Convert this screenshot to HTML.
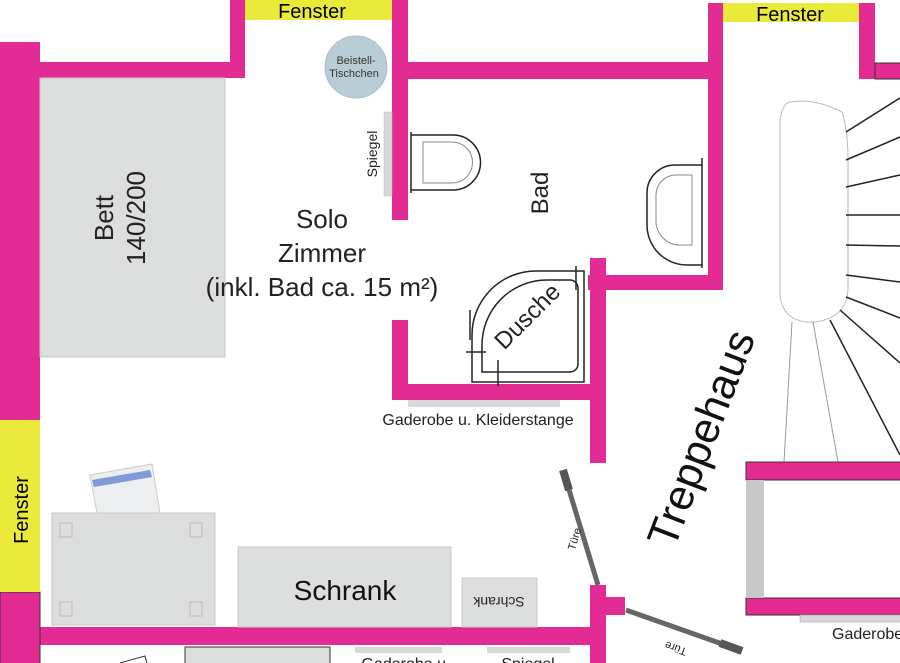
<!DOCTYPE html>
<html><head><meta charset="utf-8"><style>html,body{margin:0;padding:0;background:#fff}svg{display:block}</style></head>
<body>
<svg width="900" height="663" viewBox="0 0 900 663" xmlns="http://www.w3.org/2000/svg" font-family="Liberation Sans, sans-serif">
<g fill="#e32b94">
<rect x="0" y="42" width="40" height="378"/>
<rect x="40" y="62" width="205" height="16"/>
<rect x="230" y="0" width="15" height="78"/>
<rect x="392" y="0" width="16" height="220"/>
<rect x="408" y="62" width="300" height="17"/>
<rect x="708" y="3" width="15" height="272"/>
<rect x="859" y="3" width="16" height="76"/>
<rect x="588" y="275" width="135" height="15"/>
<rect x="590" y="258" width="16" height="205"/>
<rect x="392" y="320" width="16" height="65"/>
<rect x="392" y="384" width="214" height="16"/>
<rect x="40" y="627" width="555" height="18"/>
<rect x="590" y="585" width="16" height="78"/>
<rect x="606" y="597" width="19" height="18"/>
</g>
<rect x="875" y="63" width="26" height="16" fill="#e32b94" stroke="#333" stroke-width="1"/>
<rect x="0" y="592" width="40" height="72" fill="#e32b94" stroke="#333" stroke-width="1"/>
<rect x="746" y="462" width="156" height="18" fill="#e32b94" stroke="#333" stroke-width="1"/>
<rect x="746" y="598" width="156" height="17" fill="#e32b94" stroke="#333" stroke-width="1"/>
<g fill="#eaea3a">
<rect x="245" y="0" width="147" height="20"/>
<rect x="723" y="3" width="136" height="19"/>
<rect x="0" y="420" width="40" height="172"/>
</g>
<text x="312" y="18" font-size="20" text-anchor="middle">Fenster</text>
<text x="790" y="21" font-size="20" text-anchor="middle">Fenster</text>
<text transform="translate(28,510) rotate(-90)" font-size="20" text-anchor="middle">Fenster</text>
<!-- bed -->
<rect x="40" y="78" width="185" height="279" fill="#dcdddd" stroke="#c8c8c8"/>
<text transform="translate(113,218) rotate(-90)" font-size="26" text-anchor="middle" fill="#222"><tspan x="0" y="0">Bett</tspan><tspan x="0" y="32">140/200</tspan></text>
<text font-size="26" text-anchor="middle" fill="#222"><tspan x="322" y="228">Solo</tspan><tspan x="322" y="262">Zimmer</tspan><tspan x="322" y="296">(inkl. Bad ca. 15 m²)</tspan></text>
<circle cx="356" cy="67" r="31" fill="#b8cdd6" stroke="#a9bfc9"/>
<text font-size="11" text-anchor="middle" fill="#333"><tspan x="356" y="64">Beistell-</tspan><tspan x="354" y="77">Tischchen</tspan></text>
<rect x="384" y="112" width="8" height="84" fill="#d8d8d8" stroke="#bbb" stroke-width=".5"/>
<text transform="translate(377,154) rotate(-90)" font-size="14" text-anchor="middle" fill="#222">Spiegel</text>
<!-- toilet -->
<g fill="none" stroke="#222" stroke-width="1.5">
<path d="M411,135 H453 A27,27 0 0 1 453,190 H411"/>
<line x1="411" y1="132" x2="411" y2="193"/>
</g>
<path d="M423,142 H452 A20,20 0 0 1 452,183 H423 Z" fill="none" stroke="#888"/>
<!-- sink -->
<g fill="none" stroke="#222" stroke-width="1.5">
<path d="M702,165 H675 A28,28 0 0 0 647,193 V225 A40,40 0 0 0 687,265 H702"/>
<line x1="702" y1="158" x2="702" y2="268"/>
</g>
<path d="M692,175 H676 A20,20 0 0 0 656,195 V222 A24,24 0 0 0 680,245 H692 Z" fill="none" stroke="#888"/>
<text transform="translate(548,193) rotate(-90)" font-size="24" text-anchor="middle" fill="#222">Bad</text>
<!-- shower -->
<g fill="none" stroke="#222" stroke-width="1.5">
<path d="M472,382 V335 A64,64 0 0 1 536,271 H584 V382 Z"/>
<path d="M482,372 V345 A65,65 0 0 1 547,280 H570 A8,8 0 0 1 578,288 V364 A8,8 0 0 1 570,372 Z"/>
<line x1="466" y1="352" x2="486" y2="352"/><line x1="498" y1="360" x2="498" y2="386"/>
<line x1="576" y1="266" x2="576" y2="290"/><line x1="470" y1="340" x2="470" y2="310"/>
</g>
<text transform="translate(533,322) rotate(-45)" font-size="24" text-anchor="middle" fill="#222">Dusche</text>
<rect x="408" y="400" width="152" height="7" fill="#d8d8d8"/>
<text x="478" y="425" font-size="16" text-anchor="middle" fill="#222">Gaderobe u. Kleiderstange</text>
<!-- stairs -->
<path d="M790,102 Q815,98 842,112 Q848,130 848,160 V290 Q846,318 815,322 H805 Q782,318 780,295 V120 Q782,104 790,102 Z" fill="#fff" stroke="#bbb"/>
<g stroke="#222" stroke-width="1.5">
<line x1="846" y1="132" x2="900" y2="98"/><line x1="846" y1="160" x2="900" y2="137"/>
<line x1="846" y1="187" x2="900" y2="175"/><line x1="846" y1="215" x2="900" y2="215"/>
<line x1="846" y1="245" x2="900" y2="246"/><line x1="846" y1="275" x2="900" y2="282"/>
<line x1="846" y1="297" x2="900" y2="318"/><line x1="840" y1="310" x2="900" y2="363"/>
<line x1="830" y1="320" x2="900" y2="455"/>
</g>
<g stroke="#999" stroke-width="1"><line x1="792" y1="322" x2="784" y2="462"/><line x1="813" y1="322" x2="838" y2="462"/></g>
<text transform="translate(674,550) rotate(-69)" font-size="43" fill="#111">Treppehaus</text>
<rect x="746" y="480" width="18" height="118" fill="#c8c8c8"/>
<rect x="800" y="615" width="102" height="7" fill="#d8d8d8" stroke="#999" stroke-width=".5"/>
<text x="832" y="639" font-size="16" fill="#222">Gaderobe</text>
<!-- doors -->
<line x1="563" y1="470" x2="598" y2="585" stroke="#666" stroke-width="5"/>
<line x1="563" y1="470" x2="569" y2="490" stroke="#555" stroke-width="8"/>
<text transform="translate(578,540) rotate(-73)" font-size="11" text-anchor="middle" fill="#222">Türe</text>
<line x1="626" y1="610" x2="742" y2="651" stroke="#666" stroke-width="5"/>
<line x1="720" y1="643" x2="742" y2="651" stroke="#555" stroke-width="8"/>
<text transform="translate(677,645) rotate(200)" font-size="11" text-anchor="middle" fill="#222">Türe</text>
<!-- desk -->
<rect x="52" y="513" width="163" height="112" fill="#dcdddd" stroke="#c8c8c8"/>
<g fill="none" stroke="#bbb"><rect x="60" y="523" width="12" height="14"/><rect x="190" y="523" width="12" height="14"/><rect x="60" y="602" width="12" height="14"/><rect x="190" y="602" width="12" height="14"/></g>
<path d="M90,475 L152,464 L160,513 L97,513 Z" fill="#eceeef" stroke="#ccc"/>
<path d="M92,480 L150,470 L152,477 L94,487 Z" fill="#7f9ad8"/>
<rect x="238" y="547" width="213" height="80" fill="#dcdddd" stroke="#c8c8c8"/>
<text x="345" y="600" font-size="28" text-anchor="middle" fill="#111">Schrank</text>
<rect x="462" y="578" width="75" height="49" fill="#dcdddd" stroke="#c8c8c8"/>
<text transform="translate(499,597) rotate(180)" font-size="14" text-anchor="middle" fill="#222">Schrank</text>
<!-- bottom row -->
<rect x="185" y="647" width="145" height="20" fill="#dcdddd" stroke="#333"/>
<rect x="355" y="647" width="87" height="6" fill="#d8d8d8"/>
<rect x="487" y="647" width="83" height="6" fill="#d8d8d8"/>
<text x="406" y="669" font-size="16" text-anchor="middle" fill="#222">Gaderobe u.</text>
<text x="528" y="669" font-size="16" text-anchor="middle" fill="#222">Spiegel</text>
<path d="M120,663 L145,656 L147,663" fill="none" stroke="#333"/>
</svg>
</body></html>
